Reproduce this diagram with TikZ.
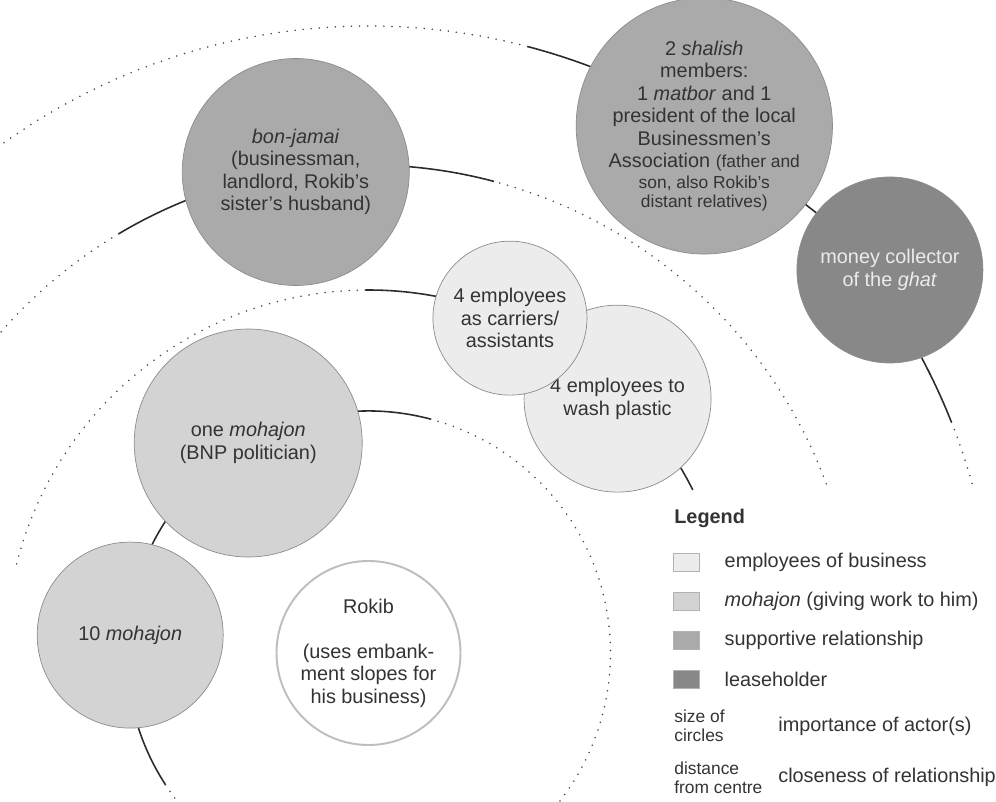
\documentclass[tikz,border=0pt]{standalone}
\usepackage{fontspec}
\setmainfont{Liberation Sans}
\usepackage{xcolor}
\usepackage{tikz}
\usetikzlibrary{positioning,calc}

\definecolor{employee}{HTML}{ECECEC}
\definecolor{mohajon}{HTML}{D3D3D3}
\definecolor{support}{HTML}{AAAAAA}
\definecolor{lease}{HTML}{888888}
\definecolor{txtgray}{HTML}{333333}
\definecolor{circgray}{HTML}{8C8C8C}
\definecolor{linegray}{HTML}{2B2B2B}
\definecolor{dotgray}{HTML}{4A4A4A}
\definecolor{rokibline}{HTML}{BEBEBE}

\begin{document}
\begin{tikzpicture}[
    actor/.style={circle, draw=circgray, line width=0.4pt, align=center, inner sep=0pt, text=txtgray, font=\fontsize{11.3}{12.8}\selectfont},
    ring/.style={draw=linegray, line width=0.9pt},
    dots/.style={draw=dotgray, line width=1pt, line cap=round, dash pattern=on 0pt off 4.6pt},
    swatch/.style={draw=black!30, line width=0.4pt, minimum width=0.52cm, minimum height=0.36cm, inner sep=0pt},
    key/.style={anchor=west, inner sep=0pt, text=txtgray, font=\fontsize{11.3}{12.8}\selectfont},
    note/.style={anchor=west, inner sep=0pt, align=left, text=txtgray, font=\fontsize{9.9}{10.8}\selectfont}
]
\useasboundingbox (0,0) rectangle (19.92,16.02);
\coordinate (c) at (7.37,2.96);

\draw[dots] ($(c)+(-37.7:4.84)$) arc[start angle=-37.7, end angle=75, radius=4.84];
\draw[ring] ($(c)+(75:4.84)$) arc[start angle=75, end angle=213, radius=4.84];
\draw[dots] ($(c)+(213:4.84)$) arc[start angle=213, end angle=217.7, radius=4.84];
\draw[ring] ($(c)+(26.7:7.26)$) arc[start angle=26.7, end angle=90.5, radius=7.26];
\draw[dots] ($(c)+(90.5:7.26)$) arc[start angle=90.5, end angle=167, radius=7.26];
\draw[dots] ($(c)+(20.3:9.76)$) arc[start angle=20.3, end angle=75.1, radius=9.76];
\draw[ring] ($(c)+(75.1:9.76)$) arc[start angle=75.1, end angle=120.8, radius=9.76];
\draw[dots] ($(c)+(120.8:9.76)$) arc[start angle=120.8, end angle=139, radius=9.76];
\draw[ring] ($(c)+(60:12.54)$) arc[start angle=60, end angle=75.3, radius=12.54];
\draw[dots] ($(c)+(75.3:12.54)$) arc[start angle=75.3, end angle=126, radius=12.54];
\draw[ring] ($(c)+(30:12.54)$) arc[start angle=30, end angle=21.6, radius=12.54];
\draw[dots] ($(c)+(21.6:12.54)$) arc[start angle=21.6, end angle=15.5, radius=12.54];

\node[actor, fill=employee, minimum size=3.74cm] (wash) at ($(c)+(45.6:7.12)$) {4 employees to\\wash plastic};
\node[actor, fill=employee, minimum size=3.08cm] (carriers) at ($(c)+(67.1:7.27)$) {4 employees\\as carriers/\\assistants};
\node[actor, fill=mohajon, minimum size=4.56cm] (onemohajon) at ($(c)+(119.8:4.84)$) {one \textit{mohajon}\\(BNP politician)};
\node[actor, fill=mohajon, minimum size=3.72cm] (tenmohajon) at ($(c)+(175.7:4.78)$) {10 \textit{mohajon}};
\node[actor, fill=support, minimum size=4.54cm] (bonjamai) at ($(c)+(98.6:9.73)$) {\textit{bon-jamai}\\(businessman,\\landlord, Rokib's\\sister's husband)};
\node[actor, fill=support, minimum size=4.56cm] (shalish) at ($(c)+(57.5:12.50)$) {2 \textit{shalish}\\members:\\1 \textit{matbor} and 1\\president of the local\\Businessmen's\\Association {\fontsize{9.9}{10.8}\selectfont(father and}\\[-1pt]{\fontsize{9.9}{10.8}\selectfont son, also Rokib's}\\[-2pt]{\fontsize{9.9}{10.8}\selectfont distant relatives)}};
\node[actor, fill=lease, text=white!92!black, minimum size=3.72cm] (ghat) at ($(c)+(36.3:12.94)$) {money collector\\of the \textit{ghat}};
\node[actor, draw=rokibline, line width=1.1pt, fill=white, minimum size=3.68cm] (rokib) at (c) {Rokib\\[12.8pt](uses embank-\\ment slopes for\\his business)};
\draw[ring] (shalish) -- (ghat);

\node[key, font=\bfseries\fontsize{11.3}{12.8}\selectfont] (legend) at (13.48,5.66) {Legend};
\node[swatch, fill=employee] (sw1) at (13.72,4.78) {};
\node[swatch, fill=mohajon, below=0.41cm of sw1] (sw2) {};
\node[swatch, fill=support, below=0.41cm of sw2] (sw3) {};
\node[swatch, fill=lease, below=0.41cm of sw3] (sw4) {};
\node[key, right=0.5cm of sw1] (k1) {employees of business};
\node[key, right=0.5cm of sw2] (k2) {\textit{mohajon} (giving work to him)};
\node[key, right=0.5cm of sw3] (k3) {supportive relationship};
\node[key, right=0.5cm of sw4] (k4) {leaseholder};
\node[note] (size) at (13.48,1.50) {size of\\circles};
\node[key] (importance) at (15.56,1.50) {importance of actor(s)};
\node[note] (distance) at (13.48,0.46) {distance\\from centre};
\node[key] (closeness) at (15.56,0.48) {closeness of relationship};
\end{tikzpicture}
\end{document}
